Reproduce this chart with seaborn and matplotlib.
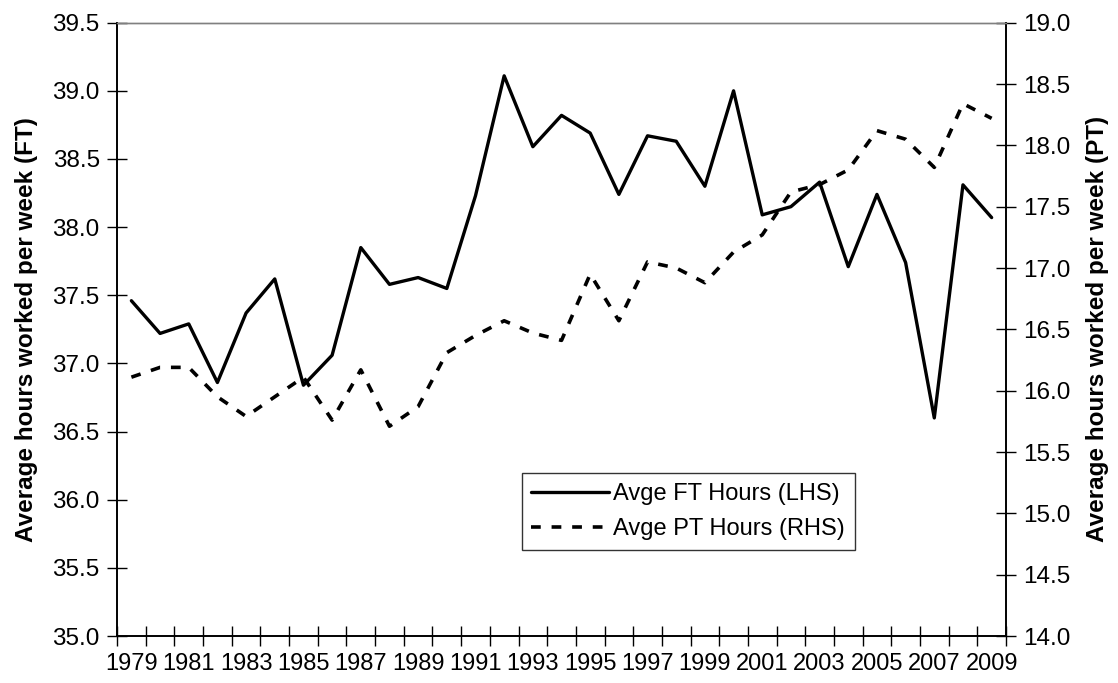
import numpy as np
import pandas as pd
import matplotlib
matplotlib.use("Agg")
import matplotlib.pyplot as plt
import seaborn as sns
from matplotlib.ticker import FormatStrFormatter

# Data
years = list(range(1979, 2010))
ft_hours = [37.46, 37.22, 37.29, 36.86, 37.37, 37.62, 36.84, 37.06, 37.85, 37.58,
            37.63, 37.55, 38.23, 39.11, 38.59, 38.82, 38.69, 38.24, 38.67, 38.63,
            38.30, 39.00, 38.09, 38.15, 38.33, 37.71, 38.24, 37.74, 36.60, 38.31,
            38.07]
pt_hours = [16.11, 16.19, 16.19, 15.95, 15.79, 15.95, 16.11, 15.76, 16.17, 15.71,
            15.87, 16.31, 16.45, 16.57, 16.47, 16.41, 16.95, 16.57, 17.05, 17.00,
            16.88, 17.13, 17.27, 17.62, 17.68, 17.80, 18.12, 18.05, 17.82, 18.34,
            18.22]

df = pd.DataFrame({"pos": np.arange(len(years)), "year": years,
                   "FT": ft_hours, "PT": pt_hours})

sns.set_theme(style="white")
plt.rcParams['font.family'] = ['Liberation Sans', 'DejaVu Sans']
plt.rcParams['text.color'] = 'black'
plt.rcParams['axes.labelcolor'] = 'black'
plt.rcParams['xtick.color'] = 'black'
plt.rcParams['ytick.color'] = 'black'

fig = plt.figure(figsize=(11.18, 6.83), dpi=100)
ax = fig.add_axes([0.1047, 0.0688, 0.7951, 0.898])
ax2 = ax.twinx()

sns.lineplot(data=df, x="pos", y="FT", ax=ax, color="black", linewidth=2.4,
             label="Avge FT Hours (LHS)", legend=False)
sns.lineplot(data=df, x="pos", y="PT", ax=ax2, color="black", linewidth=2.6,
             label="Avge PT Hours (RHS)", legend=False)
ax2.lines[0].set_dashes((2.7, 3.0))

# x axis: category style, ticks between categories, labels every 2 years
ax.set_xlim(-0.5, len(years) - 0.5)
ax.set_xticks(df["pos"][::2])
ax.set_xticklabels([str(y) for y in years[::2]])
ax.set_xticks(np.arange(-0.5, len(years), 1.0), minor=True)
ax.tick_params(axis="x", which="major", length=0, labelsize=17, pad=12)
ax.tick_params(axis="x", which="minor", direction="inout", length=15, width=1,
               color="black", bottom=True)

ax.set_ylim(35.0, 39.5)
ax.set_yticks(np.arange(35.0, 39.51, 0.5))
ax.yaxis.set_major_formatter(FormatStrFormatter("%.1f"))
ax.tick_params(axis="y", direction="inout", length=15, width=1, color="black",
               labelsize=17.5, left=True, pad=5)

ax2.set_ylim(14.0, 19.0)
ax2.set_yticks(np.arange(14.0, 19.01, 0.5))
ax2.yaxis.set_major_formatter(FormatStrFormatter("%.1f"))
ax2.tick_params(axis="y", direction="inout", length=15, width=1, color="black",
                labelsize=17.5, right=True, pad=5)

ax.set_xlabel("")
ax.set_ylabel("Average hours worked per week (FT)", fontsize=17.5,
              fontweight="bold", labelpad=10)
ax2.set_ylabel("Average hours worked per week (PT)", fontsize=17.5,
               fontweight="bold", labelpad=11)

for a in (ax, ax2):
    for side in ("left", "bottom", "right"):
        a.spines[side].set_color("black")
        a.spines[side].set_linewidth(1.2)
    a.spines["top"].set_color("#808080")
    a.spines["top"].set_linewidth(1.0)

h1, l1 = ax.get_legend_handles_labels()
h2, l2 = ax2.get_legend_handles_labels()
leg = ax2.legend(h1 + h2, l1 + l2, loc="upper left", bbox_to_anchor=(0.455, 0.266),
                 fontsize=17, frameon=True, fancybox=False, handlelength=3.3,
                 handletextpad=0.15, borderpad=0.42, labelspacing=0.55,
                 borderaxespad=0)
leg.get_frame().set_edgecolor("black")
leg.get_frame().set_linewidth(1.0)

fig.savefig("out.png", dpi=100)
